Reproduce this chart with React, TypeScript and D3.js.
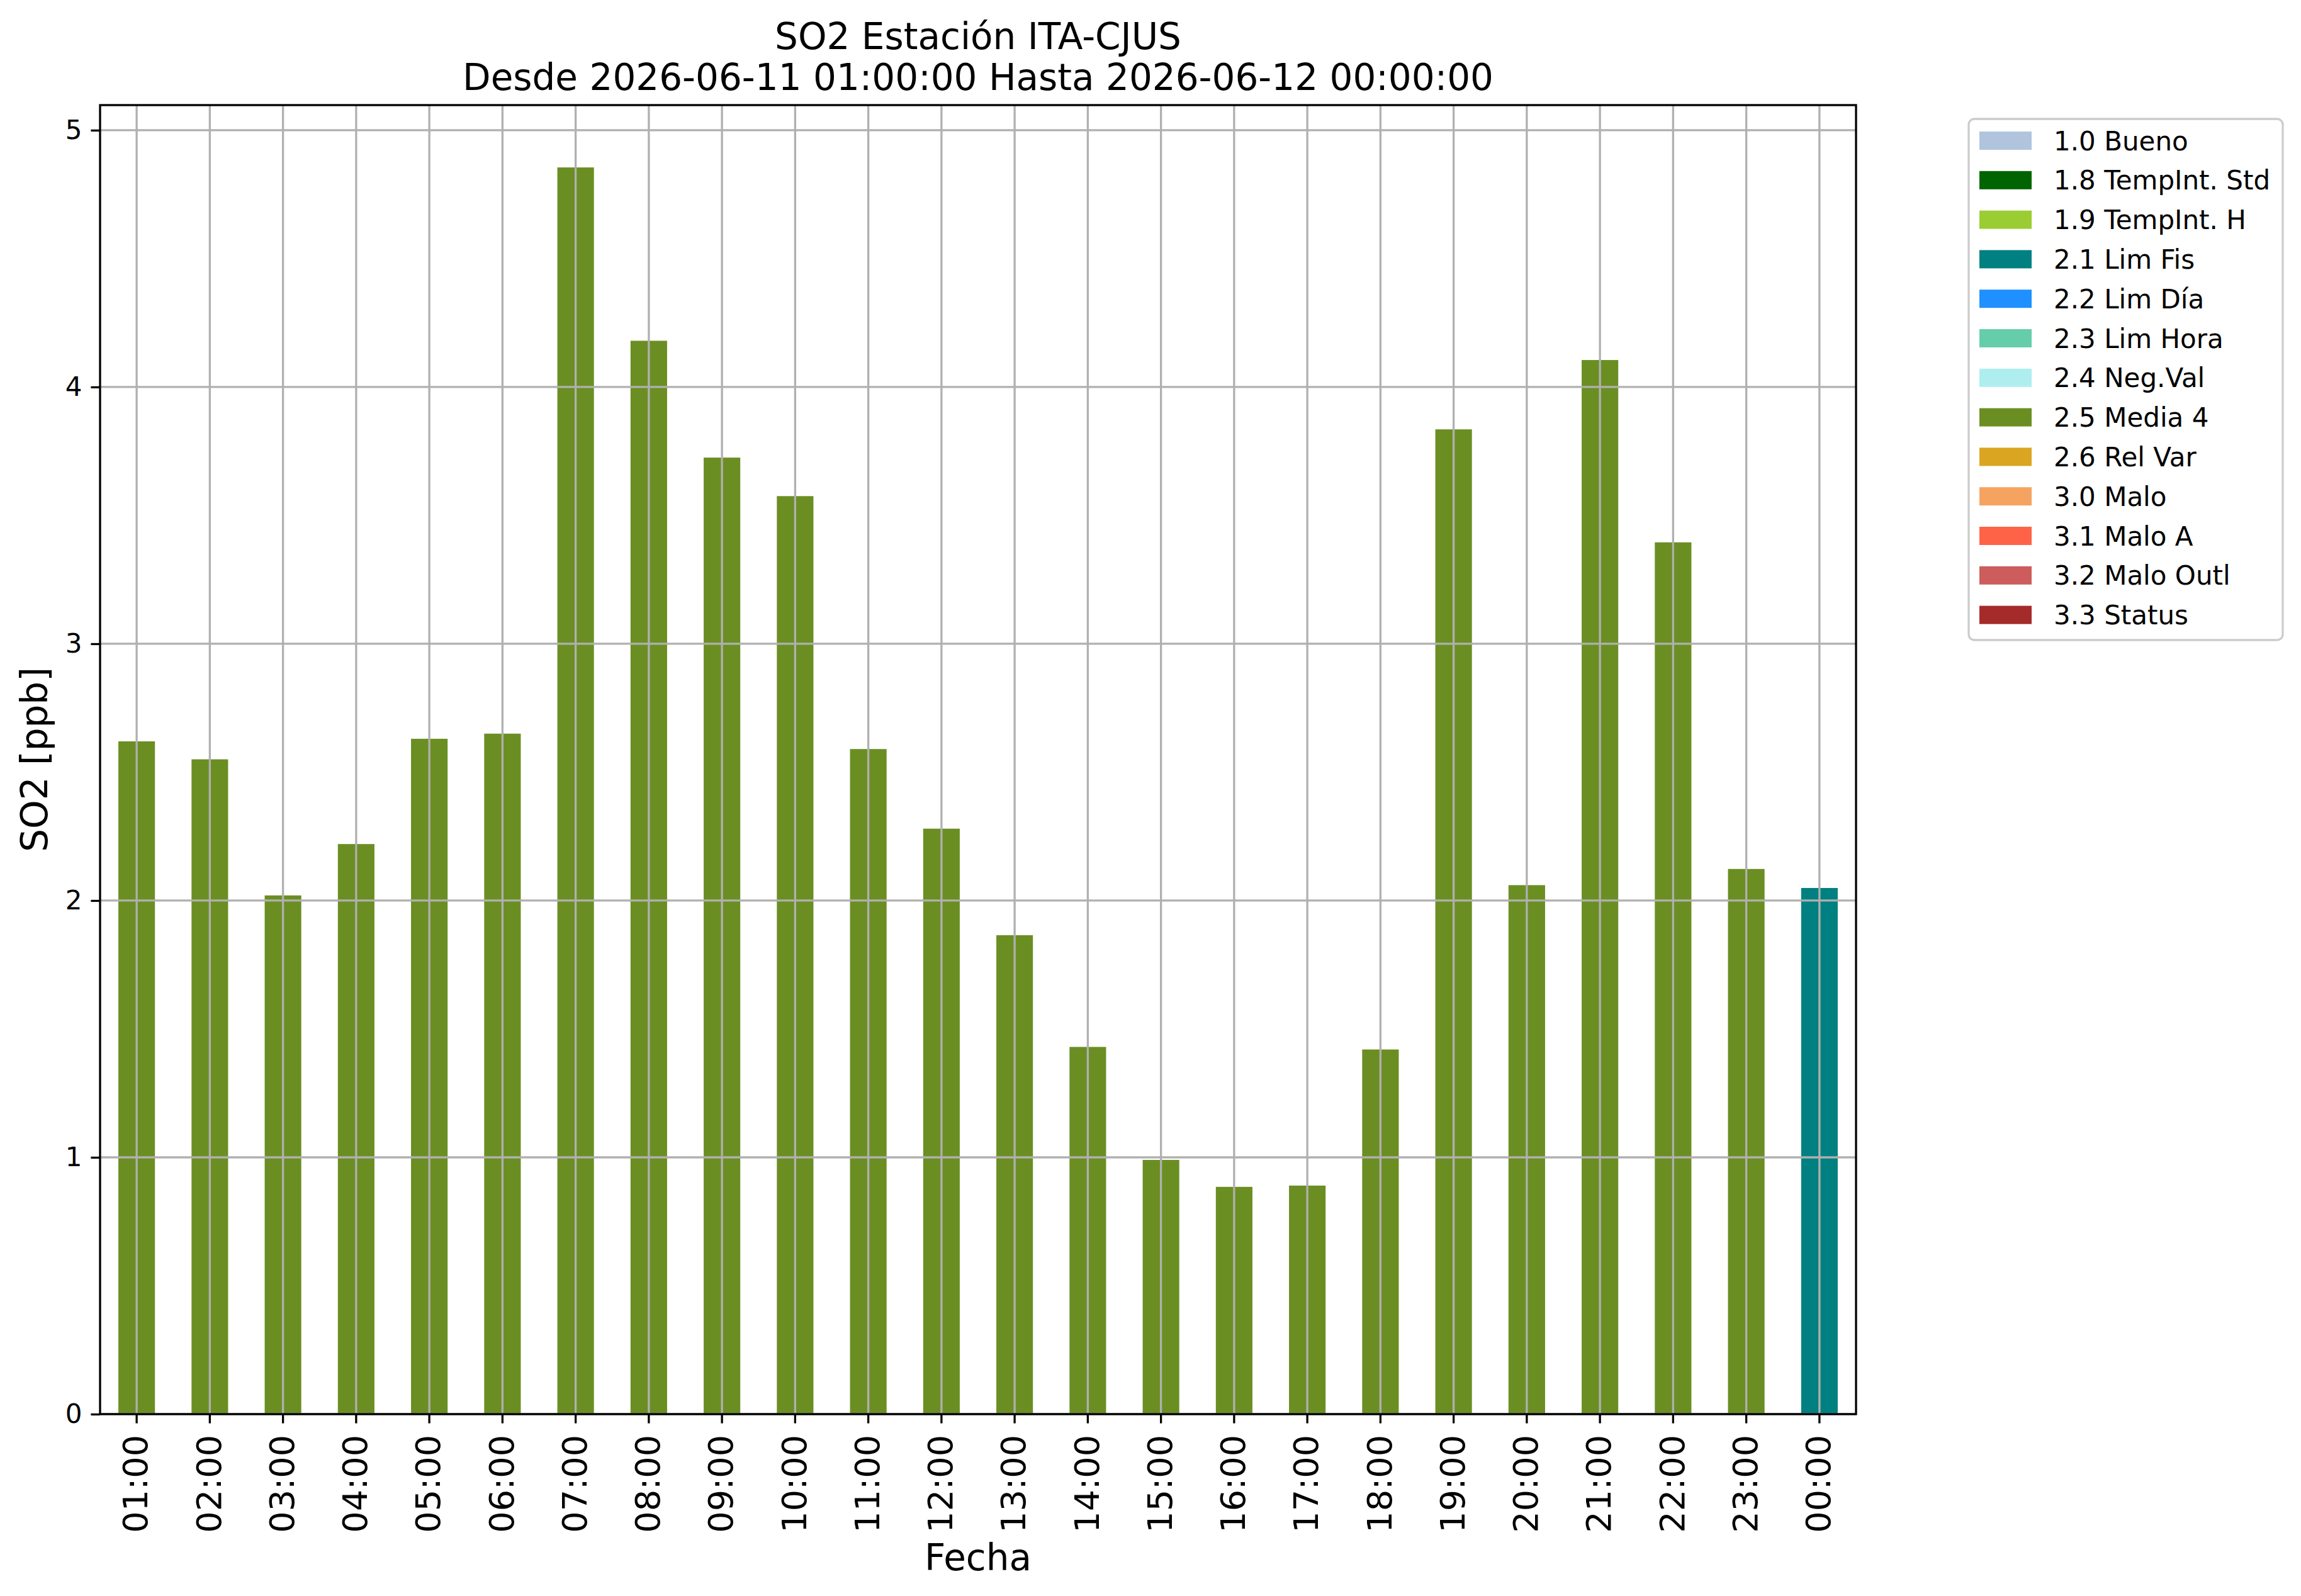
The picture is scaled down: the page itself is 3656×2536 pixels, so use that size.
import * as d3 from 'd3';
import React, { useEffect, useRef } from 'react';

// hourly SO2 values
const hours = [
   '01:00', '02:00', '03:00', '04:00', '05:00', '06:00', '07:00', '08:00',
   '09:00', '10:00', '11:00', '12:00', '13:00', '14:00', '15:00', '16:00',
   '17:00', '18:00', '19:00', '20:00', '21:00', '22:00', '23:00', '00:00',
];
const so2Values = [
   2.62, 2.55, 2.02, 2.22, 2.63, 2.65, 4.855, 4.18, 3.725, 3.575, 2.59, 2.28,
   1.865, 1.43, 0.99, 0.885, 0.89, 1.42, 3.835, 2.06, 4.105, 3.395, 2.123, 2.049,
];
const hourFlags = [
   '2.5 Media 4', '2.5 Media 4', '2.5 Media 4', '2.5 Media 4', '2.5 Media 4',
   '2.5 Media 4', '2.5 Media 4', '2.5 Media 4', '2.5 Media 4', '2.5 Media 4',
   '2.5 Media 4', '2.5 Media 4', '2.5 Media 4', '2.5 Media 4', '2.5 Media 4',
   '2.5 Media 4', '2.5 Media 4', '2.5 Media 4', '2.5 Media 4', '2.5 Media 4',
   '2.5 Media 4', '2.5 Media 4', '2.5 Media 4', '2.1 Lim Fis',
];

const flagLabels = [
   '1.0 Bueno', '1.8 TempInt. Std', '1.9 TempInt. H', '2.1 Lim Fis',
   '2.2 Lim Día', '2.3 Lim Hora', '2.4 Neg.Val', '2.5 Media 4', '2.6 Rel Var',
   '3.0 Malo', '3.1 Malo A', '3.2 Malo Outl', '3.3 Status',
];
const flagColors = [
   '#b0c4de', '#006400', '#9acd32', '#008080', '#1e90ff', '#66cdaa', '#afeeee',
   '#6b8e23', '#daa520', '#f4a460', '#ff6347', '#cd5c5c', '#a52a2a',
];

const titleLines = ['SO2 Estación ITA-CJUS', 'Desde 2026-06-11 01:00:00 Hasta 2026-06-12 00:00:00'];

const W = 3656;
const H = 2536;
const FONT = 'DejaVu Sans, sans-serif';

const App = () => {
   const svgRef = useRef<SVGSVGElement | null>(null);

   useEffect(() => {
      const svgEl = svgRef.current;
      if (!svgEl) {
         return;
      }
      document.body.style.margin = '0';
      document.body.style.overflow = 'hidden';

      const svg = d3.select(svgEl);
      svg.selectAll('*').remove();

      const plot = { left: 159, right: 2949, top: 167, bottom: 2247 };
      const lw = 3.3;

      const x = d3
         .scaleBand<string>()
         .domain(hours)
         .range([plot.left, plot.right])
         .paddingInner(0.5)
         .paddingOuter(0.25);

      const yMax = (d3.max(so2Values) ?? 0) * 1.05;
      const y = d3.scaleLinear().domain([0, yMax]).range([plot.bottom, plot.top]);

      const colorOf = d3.scaleOrdinal<string, string>().domain(flagLabels).range(flagColors);

      svg.append('rect').attr('width', W).attr('height', H).attr('fill', 'white');

      // bars
      svg.append('g')
         .selectAll('rect')
         .data(hours)
         .join('rect')
         .attr('x', (d) => x(d) ?? 0)
         .attr('width', x.bandwidth())
         .attr('y', (_, i) => y(so2Values[i]))
         .attr('height', (_, i) => y(0) - y(so2Values[i]))
         .attr('fill', (_, i) => colorOf(hourFlags[i]));

      // grid, drawn over the bars like matplotlib
      const grid = svg.append('g').attr('stroke', '#b0b0b0').attr('stroke-width', lw);
      hours.forEach((h) => {
         const cx = (x(h) ?? 0) + x.bandwidth() / 2;
         grid.append('line').attr('x1', cx).attr('x2', cx).attr('y1', plot.top).attr('y2', plot.bottom);
      });
      y.ticks(5).forEach((t) => {
         grid.append('line')
            .attr('x1', plot.left)
            .attr('x2', plot.right)
            .attr('y1', y(t))
            .attr('y2', y(t));
      });

      // spines
      svg.append('rect')
         .attr('x', plot.left)
         .attr('y', plot.top)
         .attr('width', plot.right - plot.left)
         .attr('height', plot.bottom - plot.top)
         .attr('fill', 'none')
         .attr('stroke', 'black')
         .attr('stroke-width', lw);

      // y axis
      const yAxis = svg
         .append('g')
         .attr('transform', `translate(${plot.left},0)`)
         .call(d3.axisLeft(y).ticks(5).tickFormat(d3.format('d')).tickSize(14.6).tickSizeOuter(0).tickPadding(14));
      yAxis.select('.domain').remove();
      yAxis.selectAll('line').attr('stroke', 'black').attr('stroke-width', lw);
      yAxis.selectAll('text').attr('font-family', FONT).attr('font-size', 42).attr('fill', 'black');

      // x axis
      const xAxis = svg
         .append('g')
         .attr('transform', `translate(0,${plot.bottom})`)
         .call(d3.axisBottom(x).tickSize(14.6).tickSizeOuter(0));
      xAxis.select('.domain').remove();
      xAxis.selectAll('line').attr('stroke', 'black').attr('stroke-width', lw);
      xAxis.selectAll('text')
         .attr('font-family', FONT)
         .attr('font-size', 54)
         .attr('fill', 'black')
         .attr('text-anchor', 'end')
         .attr('transform', 'rotate(-90)')
         .attr('x', -33)
         .attr('y', 0)
         .attr('dy', '0.32em');

      // titles and labels
      const cx = (plot.left + plot.right) / 2;
      titleLines.forEach((line, i) => {
         svg.append('text')
            .attr('x', cx)
            .attr('y', 78 + i * 65)
            .attr('text-anchor', 'middle')
            .attr('font-family', FONT)
            .attr('font-size', 58)
            .text(line);
      });
      svg.append('text')
         .attr('x', cx)
         .attr('y', 2495)
         .attr('text-anchor', 'middle')
         .attr('font-family', FONT)
         .attr('font-size', 58)
         .text('Fecha');
      svg.append('text')
         .attr('transform', `translate(75,${(plot.top + plot.bottom) / 2}) rotate(-90)`)
         .attr('text-anchor', 'middle')
         .attr('font-family', FONT)
         .attr('font-size', 58)
         .text('SO2 [ppb]');

      // legend
      const legend = svg.append('g');
      legend.append('rect')
         .attr('x', 3128)
         .attr('y', 189)
         .attr('width', 499)
         .attr('height', 828)
         .attr('rx', 9)
         .attr('fill', 'white')
         .attr('fill-opacity', 0.8)
         .attr('stroke', '#cccccc')
         .attr('stroke-width', lw);
      const rowH = 62.8;
      flagLabels.forEach((label, i) => {
         const cy = 223.5 + i * rowH;
         legend.append('rect')
            .attr('x', 3145)
            .attr('y', cy - 14.5)
            .attr('width', 83)
            .attr('height', 29)
            .attr('fill', colorOf(label));
         legend.append('text')
            .attr('x', 3263)
            .attr('y', cy + 15)
            .attr('font-family', FONT)
            .attr('font-size', 42)
            .text(label);
      });
   }, []);

   return (
      <div style={{ position: 'absolute', left: 0, top: 0 }}>
         <svg ref={svgRef} width={W} height={H} style={{ display: 'block' }} />
      </div>
   );
};

export default App;
